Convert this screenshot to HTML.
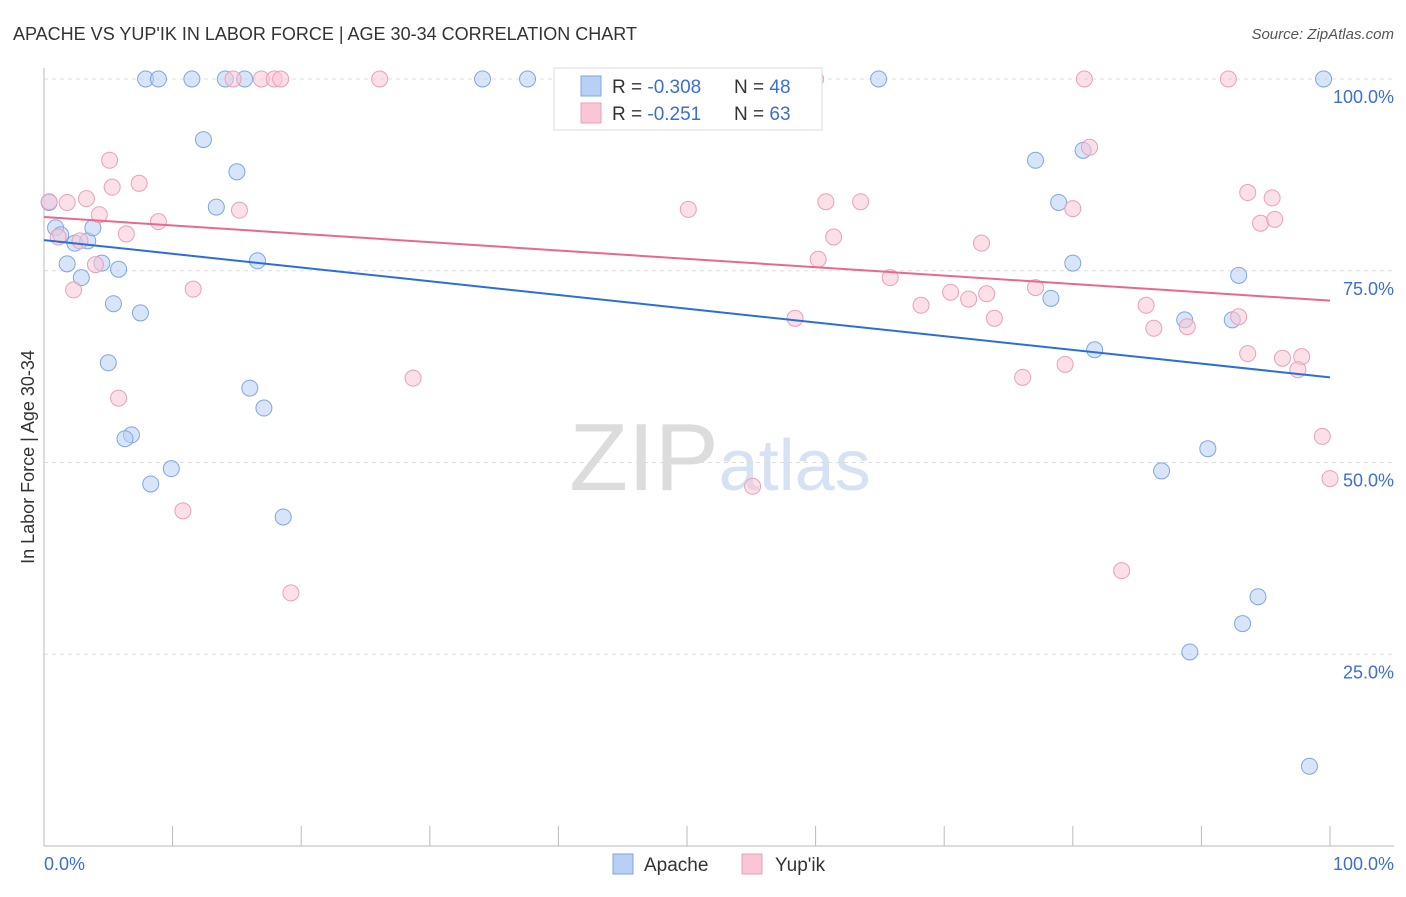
<!DOCTYPE html>
<html><head><meta charset="utf-8"><style>
body{margin:0;background:#fff;font-family:"Liberation Sans",sans-serif}
svg text{font-family:"Liberation Sans",sans-serif}
</style></head><body>
<svg id="chart" width="1406" height="892">
<text x="13" y="40" font-size="18" fill="#333">APACHE VS YUP'IK IN LABOR FORCE | AGE 30-34 CORRELATION CHART</text>
<text x="1394" y="39" font-size="15" fill="#555" font-style="italic" text-anchor="end">Source: ZipAtlas.com</text>
<text x="720" y="490" font-size="96" fill="#e4e4e4" text-anchor="middle" font-family="Liberation Serif"><tspan fill="#dcdcdc">ZIP</tspan><tspan fill="#d6e2f3" font-family="Liberation Sans" font-size="72">atlas</tspan></text>
<g id="grid"></g><g id="axes"></g><g id="marks"></g>
<text transform="translate(34,457) rotate(-90)" font-size="18" fill="#333" text-anchor="middle">In Labor Force | Age 30-34</text>
<text x="44" y="870" font-size="18" fill="#3b6fd6">0.0%</text>
<text x="1394" y="870" font-size="18" fill="#3b6fd6" text-anchor="end">100.0%</text>
<g>
<rect x="554" y="68" width="268" height="62" fill="#fff" stroke="#ddd"/>
<rect x="581" y="76" width="20" height="20" fill="#b8d0f4" stroke="#7fa6e0"/>
<rect x="581" y="103" width="20" height="20" fill="#f9c6d6" stroke="#eaa0b8"/>
<text x="612" y="93" font-size="19" fill="#333">R = <tspan fill="#3b6fd6">-0.308</tspan></text>
<text x="734" y="93" font-size="19" fill="#333">N = <tspan fill="#3b6fd6">48</tspan></text>
<text x="612" y="120" font-size="19" fill="#333">R =  <tspan fill="#3b6fd6">-0.251</tspan></text>
<text x="734" y="120" font-size="19" fill="#333">N = <tspan fill="#3b6fd6">63</tspan></text>
</g>
<g>
<rect x="613" y="854" width="20" height="20" fill="#b8d0f4" stroke="#7fa6e0"/>
<text x="644" y="871" font-size="19" fill="#333">Apache</text>
<rect x="742" y="854" width="20" height="20" fill="#f9c6d6" stroke="#eaa0b8"/>
<text x="775" y="871" font-size="19" fill="#333">Yup'ik</text>
</g>
</svg>
<script>
const yTicks=[100,75,50,25];
const yTickLabels=["100.0%","75.0%","50.0%","25.0%"];
const xTicks=[0,10,20,30,40,50,60,70,80,90,100];
const apacheX=[7.9,8.9,11.5,14.1,15.6,34.1,37.6,64.9,99.5,12.4,15.0,13.4,0.4,0.9,1.3,2.4,3.4,3.8,1.8,2.9,4.5,5.8,5.4,7.5,16.6,5.0,16.0,17.1,6.8,6.3,9.9,8.3,18.6,77.1,80.8,78.9,80.0,78.3,81.7,88.7,92.4,92.9,86.9,90.5,94.4,93.2,89.1,98.4];
const apacheY=[100,100,100,100,100,100,100,100,100,92.1,87.9,83.3,83.9,80.6,79.7,78.6,78.9,80.6,75.9,74.1,76.0,75.2,70.7,69.5,76.3,63.0,59.7,57.1,53.6,53.1,49.2,47.2,42.9,89.4,90.7,83.9,76.0,71.4,64.7,68.6,68.6,74.4,48.9,51.8,32.5,29.0,25.3,10.4];
const yupikX=[14.7,16.9,17.9,18.4,26.1,41.5,60.0,80.9,92.1,5.1,5.3,7.4,1.8,3.3,4.3,0.4,8.9,6.4,15.2,1.1,2.8,4.0,2.3,11.6,5.8,10.8,19.2,28.7,50.1,60.8,63.5,61.4,60.2,65.8,58.4,68.2,70.5,71.9,73.3,72.9,73.9,76.1,77.1,79.4,80.0,81.3,85.7,86.3,88.9,92.9,93.6,93.6,95.5,94.6,95.7,96.3,97.8,97.5,99.4,100.0,83.8,55.1];
const yupikY=[100,100,100,100,100,100,100,100,100,89.4,85.9,86.4,83.9,84.4,82.3,84.0,81.4,79.8,82.9,79.4,78.9,75.8,72.5,72.6,58.4,43.7,33.0,61.0,83.0,84.0,84.0,79.4,76.5,74.1,68.8,70.5,72.2,71.3,72.0,78.6,68.8,61.1,72.8,62.8,83.1,91.1,70.5,67.5,67.7,69.0,64.2,85.2,84.5,81.2,81.7,63.6,63.8,62.1,53.4,47.9,35.9,46.9];
const apacheTrend=[79.0,61.1];
const yupikTrend=[82.0,71.1];
const NS="http://www.w3.org/2000/svg";
const X0=44,X1=1330,Y100=79,YPX=7.67;
const xs=v=>X0+(X1-X0)*v/100;
const ys=v=>846-(846-Y100)*v/100;
function mk(t,a,p){const e=document.createElementNS(NS,t);for(const k in a)e.setAttribute(k,a[k]);document.getElementById(p).appendChild(e);return e;}
yTicks.forEach((t,i)=>{
 const l=mk('line',{x1:X0,x2:1394,y1:ys(t),y2:ys(t),stroke:'#ddd','stroke-dasharray':'4,4'},'grid');
 
 
 const tx=mk('text',{x:1394,y:ys(t)+24,'font-size':18,fill:'#3b6fd6','text-anchor':'end'},'grid');
 tx.textContent=yTickLabels[i];
 
 
});
let ax=mk('line',{x1:X0,x2:X0,y1:68,y2:846,stroke:'#bbb'},'axes');


ax=mk('line',{x1:X0,x2:1394,y1:846,y2:846,stroke:'#bbb'},'axes');


xTicks.forEach(t=>{
 const l=mk('line',{x1:xs(t),x2:xs(t),y1:826,y2:846,stroke:'#bbb'},'axes');
 
 
});
function pts(X,Y,fill,stroke,name){X.forEach((x,i)=>{
 const c=mk('circle',{cx:xs(x),cy:ys(Y[i]),r:8,fill:fill,'fill-opacity':0.55,stroke:stroke,'stroke-width':1},'marks');
 
 
});}
pts(apacheX,apacheY,'#b8d0f4','#7fa6e0','apache-point');
pts(yupikX,yupikY,'#f9c6d6','#eaa0b8','yupik-point');
let tl=mk('line',{x1:xs(0),x2:xs(100),y1:ys(apacheTrend[0]),y2:ys(apacheTrend[1]),stroke:'#2a6fd8','stroke-width':2},'marks');


tl=mk('line',{x1:xs(0),x2:xs(100),y1:ys(yupikTrend[0]),y2:ys(yupikTrend[1]),stroke:'#e8688f','stroke-width':2},'marks');


</script>
</body></html>
